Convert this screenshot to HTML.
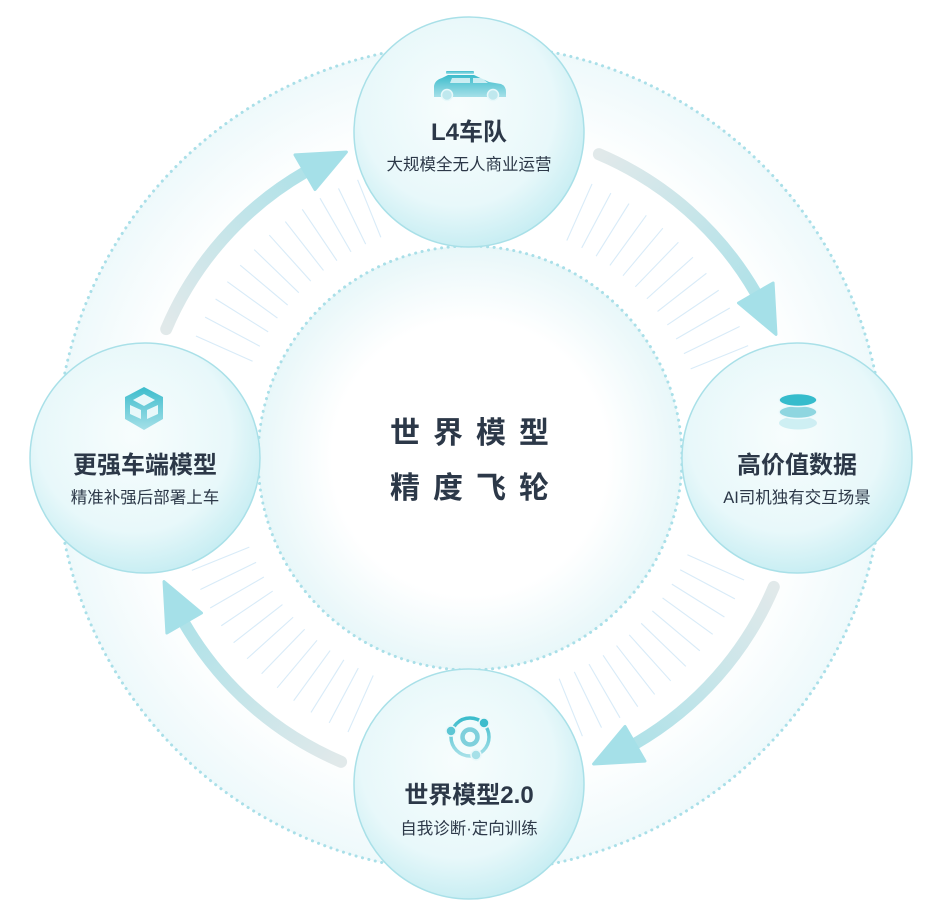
<!DOCTYPE html>
<html><head><meta charset="utf-8">
<style>
html,body{margin:0;padding:0;background:#fff;}
svg{display:block;}
text{font-family:"Liberation Sans","Noto Sans CJK SC",sans-serif;}
</style></head>
<body>
<svg width="951" height="922" viewBox="0 0 951 922" xmlns="http://www.w3.org/2000/svg">
<defs>
  <radialGradient id="outerG" cx="470" cy="458" r="415" gradientUnits="userSpaceOnUse">
    <stop offset="0.78" stop-color="#ffffff"/>
    <stop offset="1" stop-color="#eef9fb"/>
  </radialGradient>
  <radialGradient id="innerG" cx="470" cy="458" r="212" gradientUnits="userSpaceOnUse">
    <stop offset="0.65" stop-color="#ffffff"/>
    <stop offset="1" stop-color="#e8f7f9"/>
  </radialGradient>
  <radialGradient id="nodeG" cx="0.45" cy="0.4" r="0.6">
    <stop offset="0" stop-color="#f7fdfd"/>
    <stop offset="0.7" stop-color="#e8f8fa"/>
    <stop offset="1" stop-color="#c9eef3"/>
  </radialGradient>
  <linearGradient id="a1" x1="598.9" y1="154.2" x2="776" y2="334.4" gradientUnits="userSpaceOnUse">
    <stop offset="0" stop-color="#e1e9ea"/><stop offset="1" stop-color="#a5e0e8"/></linearGradient>
  <linearGradient id="a2" x1="773.8" y1="586.9" x2="593.6" y2="764" gradientUnits="userSpaceOnUse">
    <stop offset="0" stop-color="#e1e9ea"/><stop offset="1" stop-color="#a5e0e8"/></linearGradient>
  <linearGradient id="a3" x1="341.1" y1="761.8" x2="164" y2="581.6" gradientUnits="userSpaceOnUse">
    <stop offset="0" stop-color="#e1e9ea"/><stop offset="1" stop-color="#a5e0e8"/></linearGradient>
  <linearGradient id="a4" x1="166.2" y1="329.1" x2="346.4" y2="152" gradientUnits="userSpaceOnUse">
    <stop offset="0" stop-color="#e1e9ea"/><stop offset="1" stop-color="#a5e0e8"/></linearGradient>
  <linearGradient id="iconG" x1="0" y1="0" x2="0" y2="1">
    <stop offset="0" stop-color="#3cbccc"/><stop offset="1" stop-color="#a6e0e8"/></linearGradient>
  <g id="ticks" stroke="#d8ebf8" stroke-width="1.1">
    <line x1="0" y1="-238" x2="0" y2="-300" transform="rotate(24)"/>
    <line x1="0" y1="-238" x2="0" y2="-300" transform="rotate(28)"/>
    <line x1="0" y1="-238" x2="0" y2="-300" transform="rotate(32)"/>
    <line x1="0" y1="-238" x2="0" y2="-300" transform="rotate(36)"/>
    <line x1="0" y1="-238" x2="0" y2="-300" transform="rotate(40)"/>
    <line x1="0" y1="-238" x2="0" y2="-300" transform="rotate(44)"/>
    <line x1="0" y1="-238" x2="0" y2="-300" transform="rotate(48)"/>
    <line x1="0" y1="-238" x2="0" y2="-300" transform="rotate(52)"/>
    <line x1="0" y1="-238" x2="0" y2="-300" transform="rotate(56)"/>
    <line x1="0" y1="-238" x2="0" y2="-300" transform="rotate(60)"/>
    <line x1="0" y1="-238" x2="0" y2="-300" transform="rotate(64)"/>
    <line x1="0" y1="-238" x2="0" y2="-300" transform="rotate(68)"/>
  </g>
</defs>

<circle cx="470" cy="458" r="414" fill="url(#outerG)" stroke="#a9dfe8" stroke-width="3" stroke-dasharray="0.1 6.5" stroke-linecap="round"/>

<g transform="translate(470 458)">
  <use href="#ticks"/>
  <use href="#ticks" transform="rotate(90)"/>
  <use href="#ticks" transform="rotate(180)"/>
  <use href="#ticks" transform="rotate(270)"/>
</g>

<circle cx="470" cy="458" r="212" fill="url(#innerG)" stroke="#a9dfe8" stroke-width="3" stroke-dasharray="0.1 6.5" stroke-linecap="round"/>

<g fill="none" stroke-width="12" stroke-linecap="round">
  <path d="M598.9 154.2 A330 330 0 0 1 755.8 293" stroke="url(#a1)"/>
  <path d="M773.8 586.9 A330 330 0 0 1 635 743.8" stroke="url(#a2)"/>
  <path d="M341.1 761.8 A330 330 0 0 1 184.2 623" stroke="url(#a3)"/>
  <path d="M166.2 329.1 A330 330 0 0 1 305 172.2" stroke="url(#a4)"/>
</g>
<polygon points="776,334.4 773.1,283 738.5,303" fill="#a5e0e8" stroke="#a5e0e8" stroke-width="3" stroke-linejoin="round"/>
<polygon points="593.6,764 645,761.1 625,726.5" fill="#a5e0e8" stroke="#a5e0e8" stroke-width="3" stroke-linejoin="round"/>
<polygon points="164,581.6 166.9,633 201.5,613" fill="#a5e0e8" stroke="#a5e0e8" stroke-width="3" stroke-linejoin="round"/>
<polygon points="346.4,152 295,154.9 315,189.5" fill="#a5e0e8" stroke="#a5e0e8" stroke-width="3" stroke-linejoin="round"/>

<text x="476" y="443" text-anchor="middle" font-size="30" font-weight="bold" fill="#2c3848" letter-spacing="13">世界模型</text>
<text x="476" y="498" text-anchor="middle" font-size="30" font-weight="bold" fill="#2c3848" letter-spacing="13">精度飞轮</text>

<circle cx="469" cy="132" r="115" fill="url(#nodeG)" stroke="#a9e0e8" stroke-width="1.5"/>
<circle cx="797" cy="458" r="115" fill="url(#nodeG)" stroke="#a9e0e8" stroke-width="1.5"/>
<circle cx="469" cy="784" r="115" fill="url(#nodeG)" stroke="#a9e0e8" stroke-width="1.5"/>
<circle cx="145" cy="458" r="115" fill="url(#nodeG)" stroke="#a9e0e8" stroke-width="1.5"/>

<!-- car icon -->
<g fill="url(#iconG)">
  <rect x="446" y="71" width="28" height="3" rx="1"/>
  <path d="M434 97 L434 86 Q435 80 442 78 L448 75 L474 75 L489 82 L501 84 Q506 86 506 92 L506 97 Z"/>
</g>
<circle cx="447" cy="95" r="5.5" fill="#bfe8ee" stroke="#e8f8fa" stroke-width="1.5"/>
<circle cx="493" cy="95" r="5.5" fill="#bfe8ee" stroke="#e8f8fa" stroke-width="1.5"/>
<path d="M452 78 L470 78 L470 83 L450 83 Z M473 78 L482 78 L488 83 L473 83 Z" fill="#e8f8fa" opacity="0.8"/>
<text x="469" y="140" text-anchor="middle" font-size="24" font-weight="bold" fill="#2c3848">L4车队</text>
<text x="469" y="170" text-anchor="middle" font-size="16.5" fill="#2c3848">大规模全无人商业运营</text>

<!-- database icon -->
<ellipse cx="798" cy="423" rx="19" ry="6.5" fill="#c4ebf0" opacity="0.8"/>
<ellipse cx="798" cy="412" rx="19" ry="6.5" fill="#8fd6e0" stroke="#eef9fb" stroke-width="1.5"/>
<ellipse cx="798" cy="400" rx="19" ry="6.5" fill="#35bccc" stroke="#eef9fb" stroke-width="1.5"/>
<text x="797" y="473" text-anchor="middle" font-size="24" font-weight="bold" fill="#2c3848">高价值数据</text>
<text x="797" y="503" text-anchor="middle" font-size="16.5" fill="#2c3848">AI司机独有交互场景</text>

<!-- orbit icon -->
<circle cx="470" cy="737" r="19" fill="none" stroke="url(#iconG)" stroke-width="3.5"/>
<circle cx="470" cy="737" r="7.5" fill="none" stroke="#7fd0dc" stroke-width="4.5"/>
<circle cx="484" cy="723" r="5" fill="#3cbccc" stroke="#eaf8fa" stroke-width="1.5"/>
<circle cx="451" cy="731" r="5" fill="#5cc6d4" stroke="#eaf8fa" stroke-width="1.5"/>
<circle cx="476" cy="755" r="5" fill="#a6e0e8" stroke="#eaf8fa" stroke-width="1.5"/>
<text x="469" y="803" text-anchor="middle" font-size="24" font-weight="bold" fill="#2c3848">世界模型2.0</text>
<text x="469" y="834" text-anchor="middle" font-size="16.5" fill="#2c3848">自我诊断·定向训练</text>

<!-- cube icon -->
<g>
  <polygon points="144,387 163,397 163,419 144,430 125,419 125,397" fill="url(#iconG)"/>
  <polygon points="144,394 155,400 144,406 133,400" fill="#e8f8fa"/>
  <polygon points="130,405 141,410 141,419 130,414" fill="#e8f8fa"/>
  <polygon points="158,405 147,410 147,419 158,414" fill="#e8f8fa"/>
</g>
<text x="145" y="473" text-anchor="middle" font-size="24" font-weight="bold" fill="#2c3848">更强车端模型</text>
<text x="145" y="503" text-anchor="middle" font-size="16.5" fill="#2c3848">精准补强后部署上车</text>
</svg>
</body></html>
